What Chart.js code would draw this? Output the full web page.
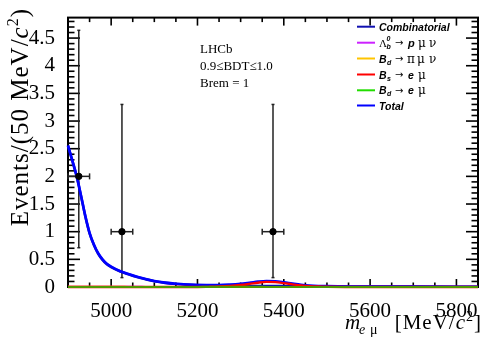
<!DOCTYPE html>
<html><head><meta charset="utf-8">
<script src="https://cdn.jsdelivr.net/npm/chart.js@4"></script>
<style>html,body{margin:0;padding:0;background:#fff;overflow:hidden}canvas{display:block}</style>
</head><body>
<canvas id="c" width="483" height="339"></canvas>
<script>
// ---- data ----
const massGrid = [4900,4910,4920,4930,4940,4950,4960,4970,4980,4990,5000,5020,5040,5060,5080,5100,5125,5150,5175,5200,5225,5250,5275,5300,5320,5340,5360,5380,5400,5420,5440,5460,5480,5500,5550,5600,5700,5850];
const combinatorial = [2.55,2.28,2.00,1.65,1.28,0.97,0.76,0.60,0.49,0.41,0.36,0.285,0.23,0.18,0.14,0.105,0.075,0.055,0.043,0.035,0.030,0.026,0.023,0.021,0.019,0.018,0.017,0.016,0.015,0.014,0.013,0.012,0.011,0.011,0.009,0.008,0.006,0.004];
const lambdaB = [0.004,0.004,0.004,0.004,0.004,0.004,0.004,0.004,0.004,0.004,0.003,0.003,0.003,0.003,0.002,0.002,0.002,0.002,0.001,0.001,0.001,0.001,0.001,0.001,0,0,0,0,0,0,0,0,0,0,0,0,0,0];
const bdPiMuNu = [0.003,0.003,0.003,0.003,0.003,0.003,0.003,0.003,0.003,0.003,0.003,0.003,0.002,0.002,0.002,0.002,0.002,0.001,0.001,0.001,0.001,0.001,0.001,0,0,0,0,0,0,0,0,0,0,0,0,0,0,0];
const bsEMu = [0,0,0,0,0,0,0,0,0,0,0,0,0,0,0,0,0,0,0,0,0.003,0.008,0.018,0.035,0.055,0.078,0.092,0.088,0.070,0.048,0.028,0.015,0.008,0.004,0.001,0,0,0];
const bdEMu = [0,0,0,0,0,0,0,0,0,0,0,0,0,0,0,0,0,0,0,0,0.001,0.001,0.002,0.002,0.001,0.001,0,0,0,0,0,0,0,0,0,0,0,0];
const totalFit = [2.56,2.29,2.01,1.66,1.29,0.98,0.77,0.61,0.50,0.42,0.37,0.29,0.235,0.185,0.144,0.109,0.079,0.058,0.045,0.037,0.035,0.036,0.045,0.059,0.075,0.097,0.109,0.104,0.085,0.062,0.041,0.027,0.019,0.015,0.010,0.008,0.006,0.004];
const dataMass = [4925, 5025, 5375];
const dataEvents = [2, 1, 1];
const errLow = [1.29, 0.83, 0.83];
const errHigh = [2.64, 2.30, 2.30];
const binHalfWidth = [25, 25, 25];
const xTickValues = [5000, 5200, 5400, 5600, 5800];
const yTickValues = [0, 0.5, 1, 1.5, 2, 2.5, 3, 3.5, 4, 4.5];

const pts = arr => massGrid.map((m, i) => ({x: m, y: arr[i]}));

const COL = {comb:'#1010b0', lambda:'#cc22ff', bdpi:'#ffc400', bs:'#ff0000', bde:'#22dd00', bdePlot:'#4f9a00', total:'#0000ff'};

function line(ctx,x1,y1,x2,y2){ctx.beginPath();ctx.moveTo(x1,y1);ctx.lineTo(x2,y2);ctx.stroke();}

function drawRich(ctx, segs, x, y, align){
  let w = 0;
  segs.forEach(s => { ctx.font = s.f; s.w = ctx.measureText(s.t).width + (s.gap||0); w += s.w; });
  let cx = align === 'right' ? x - w : x;
  segs.forEach(s => { ctx.font = s.f; ctx.fillText(s.t, cx, y + (s.dy||0)); cx += s.w; });
}

const framePlugin = {
  id: 'frame',
  beforeDatasetsDraw(chart){
    const {ctx, chartArea:a, scales:{x, y}} = chart;
    ctx.save();
    ctx.strokeStyle = '#000';
    ctx.lineWidth = 1.6;
    for (let i = 0; i <= 48; i++){
      const v = i/10; const p = y.getPixelForValue(v);
      const L = (i % 5 === 0) ? 12 : 6.5;
      line(ctx, a.left, p, a.left + L, p);
      line(ctx, a.right, p, a.right - L, p);
    }
    for (let v = 4950; v < 5850; v += 50){
      const p = x.getPixelForValue(v);
      const L = (v % 200 === 0) ? 8 : 4.5;
      line(ctx, p, a.bottom, p, a.bottom - L);
      line(ctx, p, a.top, p, a.top + L);
    }
    ctx.lineWidth = 2;
    ctx.strokeRect(a.left, a.top, a.right - a.left, a.bottom - a.top);
    ctx.strokeStyle = '#222'; ctx.lineWidth = 1.5;
    dataMass.forEach((m, i) => {
      const px = x.getPixelForValue(m), py = y.getPixelForValue(dataEvents[i]);
      const top = y.getPixelForValue(dataEvents[i] + errHigh[i]);
      const bot = y.getPixelForValue(dataEvents[i] - errLow[i]);
      const l = x.getPixelForValue(m - binHalfWidth[i]), r = x.getPixelForValue(m + binHalfWidth[i]);
      line(ctx, px, top, px, bot);
      line(ctx, l, py, r, py);
      line(ctx, l, py - 3, l, py + 3);
      line(ctx, r, py - 3, r, py + 3);
      line(ctx, px - 1.5, top, px + 1.5, top);
      line(ctx, px - 1.5, bot, px + 1.5, bot);
    });
    ctx.restore();
  },
  afterDraw(chart){
    const {ctx} = chart;
    ctx.save();
    ctx.fillStyle = '#000';
    ctx.textBaseline = 'alphabetic';
    ctx.font = '13px "Liberation Serif"';
    ctx.fillText('LHCb', 200, 53);
    ctx.fillText('0.9\u2264BDT\u22641.0', 200, 70);
    ctx.fillText('Brem = 1', 200, 87);
    // legend
    const rows = [26.7, 42.7, 58.5, 74.5, 90.3, 105.5];
    const cols = [COL.comb, COL.lambda, COL.bdpi, COL.bs, COL.bde, COL.total];
    ctx.lineWidth = 2;
    rows.forEach((ry, i) => { ctx.strokeStyle = cols[i]; line(ctx, 357, ry, 375, ry); });
    const BI = 'bold italic 10.5px "Liberation Sans"';
    const BIs = 'bold italic 7px "Liberation Sans"';
    const GR = '12px "DejaVu Serif"';
    const AR = '10px "DejaVu Sans"';
    ctx.font = BI; ctx.fillText('Combinatorial', 379, rows[0] + 4);
    let b = rows[1] + 4;
    ctx.font = '11px "Liberation Serif"'; ctx.fillText('\u039B', 379, b);
    ctx.font = BIs; ctx.fillText('b', 386.5, b + 2); ctx.fillText('0', 386.5, b - 6);
    ctx.font = AR; ctx.fillText('\u2192', 395, b - 0.5);
    ctx.font = 'bold italic 11px "Liberation Sans"'; ctx.fillText('p', 408, b);
    ctx.font = GR; ctx.fillText('\u03BC', 418, b); ctx.fillText('\u03BD', 429, b);
    b = rows[2] + 4;
    ctx.font = BI; ctx.fillText('B', 379, b);
    ctx.font = BIs; ctx.fillText('d', 387, b + 2);
    ctx.font = AR; ctx.fillText('\u2192', 395, b - 0.5);
    ctx.font = GR; ctx.fillText('\u03C0', 407, b); ctx.fillText('\u03BC', 417, b); ctx.fillText('\u03BD', 429, b);
    b = rows[3] + 4;
    ctx.font = BI; ctx.fillText('B', 379, b);
    ctx.font = BIs; ctx.fillText('s', 387, b + 2);
    ctx.font = AR; ctx.fillText('\u2192', 395, b - 0.5);
    ctx.font = BI; ctx.fillText('e', 408, b);
    ctx.font = GR; ctx.fillText('\u03BC', 418, b);
    b = rows[4] + 4;
    ctx.font = BI; ctx.fillText('B', 379, b);
    ctx.font = BIs; ctx.fillText('d', 387, b + 2);
    ctx.font = AR; ctx.fillText('\u2192', 395, b - 0.5);
    ctx.font = BI; ctx.fillText('e', 408, b);
    ctx.font = GR; ctx.fillText('\u03BC', 418, b);
    ctx.font = BI; ctx.fillText('Total', 379, rows[5] + 4);

    // x title
    ctx.font = 'italic 21px "Liberation Serif"'; ctx.fillText('m', 345, 329);
    ctx.font = 'italic 14px "Liberation Serif"'; ctx.fillText('e', 359, 334);
    ctx.font = '14px "Liberation Serif"'; ctx.fillText('\u03BC', 370, 334);
    ctx.letterSpacing = '1px';
    drawRich(ctx, [
      {t:'[MeV/', f:'21px "Liberation Serif"'},
      {t:'c', f:'italic 21px "Liberation Serif"'},
      {t:'2', f:'14px "Liberation Serif"', dy:-8},
      {t:']', f:'21px "Liberation Serif"'}
    ], 482, 329, 'right');
    // y title (rotated)
    ctx.translate(28, 8);
    ctx.rotate(-Math.PI/2);
    ctx.letterSpacing = '1px';
    drawRich(ctx, [
      {t:'Events/(50 MeV/', f:'25px "Liberation Serif"'},
      {t:'c', f:'italic 25px "Liberation Serif"'},
      {t:'2', f:'16px "Liberation Serif"', dy:-10},
      {t:')', f:'25px "Liberation Serif"'}
    ], 0, 0, 'right');
    ctx.restore();
  }
};

const curve = (label, arr, color, w) => ({
  type:'line', label, data: pts(arr), borderColor: color, backgroundColor: color,
  borderWidth: w, pointRadius: 0, fill: false, cubicInterpolationMode: 'monotone', clip: false
});

new Chart(document.getElementById('c'), {
  type: 'line',
  data: {
    datasets: [
      {type:'scatter', label:'Data', data: dataMass.map((m,i)=>({x:m, y:dataEvents[i]})),
       backgroundColor:'#000', borderColor:'#000', pointRadius:3.2, showLine:false, clip:false},
      curve('Bd -> e mu', bdEMu, COL.bdePlot, 2.2),
      curve('Bs -> e mu', bsEMu, COL.bs, 2.4),
      curve('Total', totalFit, COL.total, 2.6),
      curve('Bd -> pi mu nu', bdPiMuNu, COL.bdpi, 2),
      curve('Lambda_b -> p mu nu', lambdaB, COL.lambda, 2),
      curve('Combinatorial', combinatorial, COL.comb, 2.6)
    ]
  },
  options: {
    responsive: false, animation: false, devicePixelRatio: 1,
    layout: {padding: {top: 8, right: 2, left: 0, bottom: 0}},
    plugins: {legend: {display: false}, tooltip: {enabled: false}},
    scales: {
      x: {
        type: 'linear', min: 4900, max: 5850,
        afterBuildTicks: s => { s.ticks = xTickValues.map(v => ({value: v})); },
        afterFit: s => { s.height = 52; },
        grid: {display: false}, border: {display: false},
        ticks: {color:'#000', font:{family:'Liberation Serif', size:21}, padding:4, maxRotation:0, autoSkip:false,
                callback: v => String(v)}
      },
      y: {
        type: 'linear', min: 0, max: 4.87,
        afterBuildTicks: s => { s.ticks = yTickValues.map(v => ({value: v})); },
        afterFit: s => { s.width = 68; },
        grid: {display: false}, border: {display: false},
        ticks: {color:'#000', font:{family:'Liberation Serif', size:21}, padding:5, autoSkip:false,
                callback: v => String(v)}
      }
    }
  },
  plugins: [framePlugin]
});
</script>
</body></html>
